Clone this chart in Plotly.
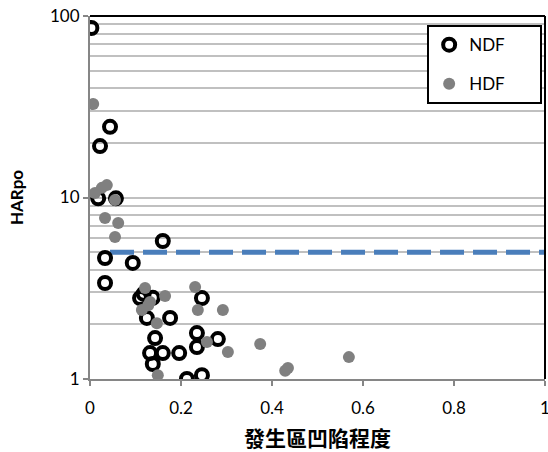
import plotly.graph_objects as go

# NDF series (black rings)
ndf_x = [0.003, 0.044, 0.022, 0.018, 0.057, 0.160, 0.033, 0.094, 0.033,
         0.110, 0.118, 0.138, 0.246, 0.125, 0.176, 0.143, 0.235, 0.235,
         0.281, 0.132, 0.160, 0.196, 0.138, 0.213, 0.246]
ndf_y = [85.9, 24.5, 19.2, 9.9, 9.9, 5.76, 4.64, 4.36, 3.38,
         2.79, 2.95, 2.80, 2.79, 2.17, 2.17, 1.68, 1.79, 1.50,
         1.66, 1.39, 1.39, 1.39, 1.21, 1.00, 1.05]

# HDF series (gray dots)
hdf_x = [0.007, 0.011, 0.026, 0.037, 0.055, 0.033, 0.062, 0.055,
         0.121, 0.165, 0.231, 0.132, 0.128, 0.114, 0.237, 0.292,
         0.147, 0.257, 0.303, 0.374, 0.149, 0.429, 0.435, 0.569]
hdf_y = [32.7, 10.6, 11.3, 11.7, 9.7, 7.71, 7.24, 6.06,
         3.17, 2.87, 3.21, 2.66, 2.55, 2.40, 2.40, 2.40,
         2.03, 1.60, 1.41, 1.56, 1.05, 1.11, 1.15, 1.32]

# Threshold line
thr_x = [0.044, 1.0]
thr_y = [5.0, 5.0]

x_ticks = [0, 0.2, 0.4, 0.6, 0.8, 1]
x_ticktext = ["0", "0.2", "0.4", "0.6", "0.8", "1"]
y_ticks = [1, 10, 100]
y_ticktext = ["1", "10", "100"]

FONT = "Lato, 'Open Sans', sans-serif"
PAD = "\u00a0" * 7

fig = go.Figure()

fig.add_trace(go.Scatter(
    x=thr_x, y=thr_y, mode="lines", showlegend=False,
    line=dict(color="#4a7ebb", width=5, dash="24px,9px"),
    hoverinfo="skip"))

fig.add_trace(go.Scatter(
    x=ndf_x, y=ndf_y, mode="markers", name="NDF" + PAD, legendgroup="a",
    marker=dict(symbol="circle-open", size=12, color="black",
                line=dict(color="black", width=4))))

fig.add_trace(go.Scatter(
    x=hdf_x, y=hdf_y, mode="markers", name="HDF" + PAD, legendgroup="b",
    marker=dict(symbol="circle", size=12, color="#808080",
                line=dict(width=0))))

fig.update_layout(
    width=548, height=452,
    margin=dict(l=90, r=3, t=16, b=73),
    paper_bgcolor="white", plot_bgcolor="white",
    font=dict(family=FONT, size=17, color="black"),
    legend=dict(x=0.741, y=0.975, xanchor="left", yanchor="top",
                bordercolor="black", borderwidth=2, bgcolor="white",
                font=dict(family=FONT, size=17, color="black"),
                tracegroupgap=14),
    xaxis=dict(range=[0, 1], tickvals=x_ticks, ticktext=x_ticktext,
               automargin=False, ticklabeloverflow="allow",
               showgrid=False, zeroline=False,
               showline=True, linecolor="#868686", linewidth=2,
               ticks="outside", ticklen=5, tickcolor="#868686", tickwidth=1.5,
               ticklabelstandoff=8,
               tickfont=dict(family=FONT, size=17),
               title=dict(text="<b>發生區凹陷程度</b>", standoff=14,
                          font=dict(family="'Noto Sans CJK TC', sans-serif", size=21))),
    yaxis=dict(type="log", range=[0, 2], tickvals=y_ticks, ticktext=y_ticktext,
               automargin=False, ticklabeloverflow="allow",
               showgrid=True, gridcolor="#c0c0c0", gridwidth=1.5,
               minor=dict(dtick="D1", showgrid=True, gridcolor="#c0c0c0",
                          gridwidth=1.5, ticks=""),
               zeroline=False,
               showline=True, linecolor="#868686", linewidth=2,
               ticks="outside", ticklen=5, tickcolor="#868686", tickwidth=1.5,
               tickfont=dict(family=FONT, size=17),
               title=dict(text="<b>HARpo</b>", standoff=22,
                          font=dict(family=FONT, size=17))),
)

fig.add_shape(type="line", xref="paper", yref="paper", x0=0, x1=1, y0=1, y1=1,
              line=dict(color="black", width=2))
fig.add_shape(type="line", xref="paper", yref="paper", x0=1, x1=1, y0=0, y1=1,
              line=dict(color="black", width=2))

fig.write_html("out.html",
               config={"displayModeBar": False},
               post_script="document.body.style.margin='0';document.body.style.overflow='hidden';")
